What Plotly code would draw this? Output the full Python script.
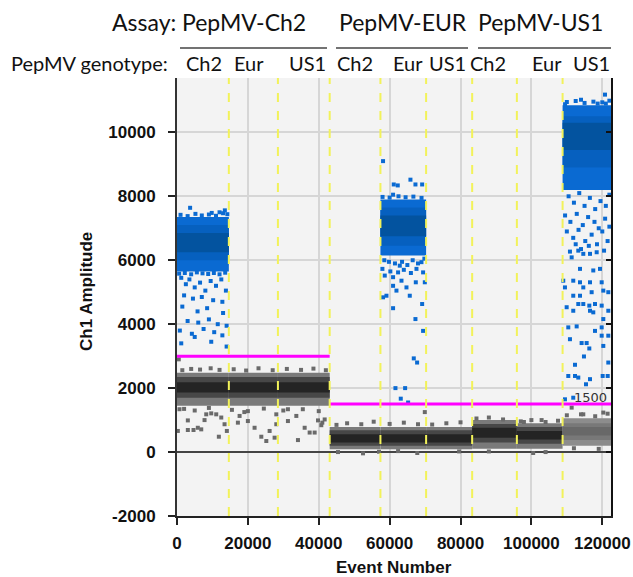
import plotly.graph_objects as go

# ---------------- data ----------------
well_edges = [0, 14630, 28480, 43080, 57400, 70290, 83280, 95900, 108800, 122460]
assay_names = ["PepMV-Ch2", "PepMV-EUR", "PepMV-US1"]
genotype_names = ["Ch2", "Eur", "US1", "Ch2", "Eur", "US1", "Ch2", "Eur", "US1"]
threshold_values = [3000, 3000, 3000, 1500, 1500, 1500, 1500, 1500, 1500]
x_ticks = [0, 20000, 40000, 60000, 80000, 100000, 120000]
y_ticks = [-2000, 0, 2000, 4000, 6000, 8000, 10000]

# negative droplet clusters (per well): outer / mid / core amplitude bands
neg_outer_lo = [1450, 1450, 1450, 90, 90, 90, 100, 100, 200]
neg_outer_hi = [2480, 2480, 2480, 780, 780, 780, 1000, 900, 1060]
neg_mid_lo = [1700, 1700, 1700, 200, 200, 200, 300, 260, 380]
neg_mid_hi = [2350, 2350, 2350, 680, 680, 680, 880, 780, 900]
neg_core_lo = [1860, 1860, 1860, 300, 300, 300, 450, 390, 520]
neg_core_hi = [2180, 2180, 2180, 560, 560, 560, 760, 660, 780]

# positive droplet clusters (wells 1, 5, 9)
pos_wells = [0, 4, 8]
pos_outer_lo = [5650, 6150, 8200]
pos_outer_hi = [7350, 7900, 10850]
pos_mid_lo = [6000, 6450, 8900]
pos_mid_hi = [7100, 7650, 10500]
pos_core_lo = [6250, 6750, 9450]
pos_core_hi = [6850, 7400, 10300]

# scattered positive droplets (event number, amplitude)
blue_x = [3700, 13500, 12000, 9800, 1000, 3000, 5200, 7000, 9000, 11000, 13000, 14200,
          600, 2200, 4000, 5600, 7200, 8800, 10400, 12000, 13600,
          1200, 2500, 3500, 5000, 6500, 8000, 9500, 11000, 12500, 13800,
          2000, 4500, 7000, 10200, 12800, 1500, 5800, 8500, 13000,
          3000, 6000, 9000, 11500, 14000, 800, 4200, 7500, 10500,
          1200, 9660, 14000, 5000, 12800,
          58140, 61160, 62290, 65870, 67280, 69170, 60970,
          58500, 59800, 61500, 63500, 65000, 66500, 68000, 69800, 60200, 64000, 66000,
          57960, 58620, 60970, 62380, 62860, 67570, 68980, 69440, 60970, 63340, 64750,
          59100, 58140, 61920, 65680, 67380, 69920, 60970, 69170, 67280, 69440,
          66810, 67750, 61640, 64370, 63140, 65210,
          58000, 60000, 62500, 64500, 66700, 69000,
          120770, 118700, 110000, 112500, 115000, 117500, 120000, 122000, 109500, 114000, 121000,
          110500, 112000, 113500, 115000, 116500, 118000, 119500, 121000, 122000,
          109500, 111000, 112800, 114500, 116000, 117800, 119000, 120800, 122000,
          110000, 111800, 113300, 115200, 117000, 118500, 120000, 121500,
          112500, 114000, 116200, 120500,
          110880, 113230, 114640, 116530, 118420, 111360, 113710, 117460, 119350,
          108990, 111810, 113710, 116530, 119830, 109470, 114640, 120290, 117000,
          111810, 113710, 121700, 109950, 111810, 113230, 114640, 116340, 116530,
          117940, 117460, 119830, 121700, 120290, 110410, 112770, 117940, 119830,
          121700, 110880, 114170, 115590, 116340, 119830, 120290, 121700, 114830,
          112300, 110410, 112300, 113230, 115400, 116530, 120110, 121530, 109470, 111810]
blue_y = [7640, 7560, 7500, 7480, 7420, 7380, 7450, 7400, 7430, 7390, 7470, 7440,
          5580, 5600, 5560, 5620, 5590, 5570, 5600, 5560, 5610,
          5450, 5250, 5400, 5150, 5300, 5050, 5350, 5200, 5400, 5050,
          4900, 4800, 4850, 4750, 4700, 4550, 4400, 4500, 4350,
          4100, 4050, 4150, 4000, 3950, 3800, 3700, 3850, 3750,
          3400, 3450, 3300, 3600, 3650,
          9100, 8370, 8340, 8520, 8370, 8370, 8050,
          6000, 5950, 5900, 5950, 5850, 6000, 5900, 6050, 5650, 5700, 5600,
          5730, 5520, 5470, 5620, 5830, 5730, 5940, 5620, 5200, 5360, 5150,
          4890, 4840, 5050, 4890, 5310, 5310, 4500, 4630, 4160, 3790,
          2930, 2800, 2000, 2000, 1670, 1550,
          7980, 7960, 8000, 7970, 7990, 7950,
          11180, 10900, 10950, 10980, 10920, 10960, 10940, 10990, 10880, 11020, 10900,
          8000, 7800, 8100, 7700, 7950, 7600, 7850, 7700, 8050,
          7400, 7200, 7450, 7100, 7350, 7200, 7000, 7300, 7050,
          6900, 6700, 6950, 6600, 6800, 6500, 6900, 6600,
          6500, 6350, 6450, 6300,
          6270, 6300, 6200, 6200, 6250, 6090, 5730, 5680, 5730,
          5360, 5360, 5310, 5310, 5310, 5150, 5150, 5050, 5000,
          4890, 4890, 5000, 4530, 4420, 4630, 4630, 4580, 4420,
          4630, 4370, 4580, 4420, 4160, 3900, 3930, 3790, 3900,
          3640, 3530, 3410, 3410, 3240, 3640, 3320, 2800, 2990,
          2730, 2380, 2380, 2330, 2120, 2280, 2380, 2380, 1650, 1700]

# scattered negative droplets (event number, amplitude)
grey_x = [700, 3060, 3060, 4660, 5870, 6840, 230, 7770, 8250, 9660, 11070, 12490, 11810,
          13420, 14070, 17180, 17660, 20000, 20000, 21890, 23790, 25200, 26130, 28020,
          28020, 27540, 31300, 31300, 34130, 36020, 37430, 38840, 39780, 40720, 33670,
          41000, 41670, 2000, 5000, 9000, 15500, 19000, 24500, 30000, 35500, 40000,
          1500, 4000, 6500, 9500, 12000, 16000, 19500, 23000, 27000, 31000, 35000, 38500, 42000,
          500, 69920,
          45000, 48000, 52000, 55500, 60000, 64000, 68000, 72000, 76000, 80000,
          84500, 88000, 92000, 97000, 100000, 104000, 107500,
          110000, 114000, 118000, 121500, 102880, 111360, 120290, 114640, 97890,
          45430, 52490, 57000, 62380, 67800, 79600, 88000, 100500, 104000, 112000, 119000]
grey_y = [1340, 990, 690, 690, 760, 710, 660, 1000, 1180, 1210, 1180, 1080, 480,
          870, 660, 920, 1130, 970, 1280, 760, 480, 345, 660, 1180,
          870, 450, 970, 1340, 375, 760, 610, 610, 990, 840, 1130,
          920, 1020, 1350, 1300, 1380, 1320, 1250, 1360, 1300, 1340, 1280,
          2560, 2600, 2580, 2620, 2570, 2590, 2550, 2620, 2560, 2600, 2570, 2610, 2560,
          2900, 1250,
          850, 900, 870, 950, 880, 920, 870, 860, 900, 930,
          1050, 1080, 1020, 960, 1000, 940, 980,
          1150, 1180, 1120, 1200, 1000, 1390, 1235, 1180, 940,
          0, -40, 10, 30, -30, 20, 20, -30, 0, 120, 100]

# ---------------- figure ----------------
W, H = 633, 577
ML, MR, MT, MB = 177, 22, 78, 61
PW, PH = W - ML - MR, H - MT - MB


def xp(px):
    return (px - ML) / PW


def yp(py):
    return (MT + PH - py) / PH


def band(x0, x1, y0, y1, color):
    return go.Scatter(x=[x0, x1, x1, x0, x0], y=[y0, y0, y1, y1, y0],
                      mode="lines", fill="toself", fillcolor=color,
                      line=dict(width=0), hoverinfo="skip", showlegend=False)


fig = go.Figure()

# negative clusters
for i in range(len(genotype_names)):
    x0, x1 = well_edges[i], well_edges[i + 1]
    if i == 8:
        cols = ("#8c8c8c", "#787878", "#686868")
    else:
        cols = ("#7a7a7a", "#474747", "#242424")
    fig.add_trace(band(x0, x1, neg_outer_lo[i], neg_outer_hi[i], cols[0]))
    fig.add_trace(band(x0, x1, neg_mid_lo[i], neg_mid_hi[i], cols[1]))
    fig.add_trace(band(x0, x1, neg_core_lo[i], neg_core_hi[i], cols[2]))

fig.add_trace(go.Scatter(x=grey_x, y=grey_y, mode="markers",
                         marker=dict(symbol="square", size=4, color="#6a6a6a", line=dict(width=0)),
                         hoverinfo="skip", showlegend=False))

# positive clusters
for k, w in enumerate(pos_wells):
    x0, x1 = well_edges[w], well_edges[w + 1]
    fig.add_trace(band(x0, x1, pos_outer_lo[k], pos_outer_hi[k], "#0a6ad2"))
    fig.add_trace(band(x0, x1, pos_mid_lo[k], pos_mid_hi[k], "#0660bf"))
    fig.add_trace(band(x0, x1, pos_core_lo[k], pos_core_hi[k], "#03539f"))

fig.add_trace(go.Scatter(x=blue_x, y=blue_y, mode="markers",
                         marker=dict(symbol="square", size=4, color="#0a6ad2", line=dict(width=0)),
                         hoverinfo="skip", showlegend=False))

# threshold lines
tx, ty = [], []
for i, t in enumerate(threshold_values):
    if i > 0 and threshold_values[i - 1] == t:
        tx[-2] = well_edges[i + 1]
        continue
    tx += [well_edges[i], well_edges[i + 1], None]
    ty += [t, t, None]
fig.add_trace(go.Scatter(x=tx, y=ty, mode="lines", line=dict(color="#ff00ff", width=3),
                         hoverinfo="skip", showlegend=False))

# helper trace for right-hand axis
fig.add_trace(go.Scatter(x=[0], y=[0], yaxis="y2", mode="markers",
                         marker=dict(opacity=0), hoverinfo="skip", showlegend=False))

# well separators
for e in well_edges[1:-1]:
    fig.add_shape(type="line", xref="x", yref="paper", x0=e, x1=e, y0=0, y1=1,
                  line=dict(color="#f2f25a", width=2, dash="dash"), layer="above")

tick_font = dict(family="Liberation Sans", size=17, color="#111", weight="bold")

fig.update_layout(
    width=W, height=H,
    margin=dict(l=ML, r=MR, t=MT, b=MB, pad=0, autoexpand=False),
    paper_bgcolor="white", plot_bgcolor="#f3f3f3",
    showlegend=False,
    xaxis=dict(range=[well_edges[0], well_edges[-1]], tickvals=x_ticks,
               ticktext=[str(v) for v in x_ticks], automargin=False,
               showgrid=True, gridcolor="#d6d6d6", gridwidth=1.5,
               zeroline=False, showline=True, linecolor="#222", linewidth=2,
               ticks="outside", ticklen=7, tickwidth=1.5, tickcolor="#222",
               tickfont=tick_font, ticklabelstandoff=4),
    yaxis=dict(range=[-2000, 11700], tickvals=y_ticks,
               ticktext=[str(v) for v in y_ticks], automargin=False,
               showgrid=True, gridcolor="#d6d6d6", gridwidth=1.5,
               zeroline=True, zerolinecolor="#444", zerolinewidth=2,
               showline=True, linecolor="#333", linewidth=2,
               ticks="outside", ticklen=7, tickwidth=1.5, tickcolor="#222",
               tickfont=tick_font, ticklabelstandoff=9),
    yaxis2=dict(range=[-2000, 11700], overlaying="y", side="right", anchor="x",
                tickvals=y_ticks, showticklabels=False, ticks="inside", ticklen=5,
                tickwidth=1.5, tickcolor="#111", showgrid=False, zeroline=False,
                showline=True, linecolor="#111", linewidth=2, automargin=False),
)

ann = []
title_font = dict(family="Liberation Sans", size=17, color="#111", weight="bold")
ann.append(dict(text="Event Number", x=xp(393.5), y=yp(567), xref="paper", yref="paper",
                showarrow=False, font=title_font, xanchor="center", yanchor="middle"))
ann.append(dict(text="Ch1 Amplitude", x=xp(86), y=yp(292), xref="paper", yref="paper",
                showarrow=False, font=title_font, textangle=-90,
                xanchor="center", yanchor="middle"))
ann.append(dict(text="1500", x=xp(609), y=yp(397), xref="paper", yref="paper",
                showarrow=False, font=dict(family="DejaVu Sans", size=13, color="#333"),
                xanchor="right", yanchor="middle"))

hdr1 = dict(family="Lato", size=23, color="#111")
hdr2 = dict(family="Lato", size=20, color="#111")
ann.append(dict(text="Assay:", x=xp(178), y=yp(22), xref="paper", yref="paper",
                showarrow=False, font=hdr1, xanchor="right", yanchor="middle"))
assay_px = [244, 403, 540]
assay_ul = [(180, 327), (336, 468), (478, 611)]
for name, cx, (u0, u1) in zip(assay_names, assay_px, assay_ul):
    ann.append(dict(text=name, x=xp(cx), y=yp(22), xref="paper", yref="paper",
                    showarrow=False, font=hdr1, xanchor="center", yanchor="middle"))
    fig.add_shape(type="line", xref="paper", yref="paper", x0=xp(u0), x1=xp(u1),
                  y0=yp(48), y1=yp(48), line=dict(color="#444", width=1.5))
ann.append(dict(text="PepMV genotype:", x=xp(170), y=yp(63), xref="paper", yref="paper",
                showarrow=False, font=hdr2, xanchor="right", yanchor="middle"))
geno_px = [204, 249, 307, 355, 407.5, 447, 488, 547, 591]
for name, cx in zip(genotype_names, geno_px):
    ann.append(dict(text=name, x=xp(cx), y=yp(63), xref="paper", yref="paper",
                    showarrow=False, font=hdr2, xanchor="center", yanchor="middle"))
fig.update_layout(annotations=ann)

fig.write_html("out.html")
